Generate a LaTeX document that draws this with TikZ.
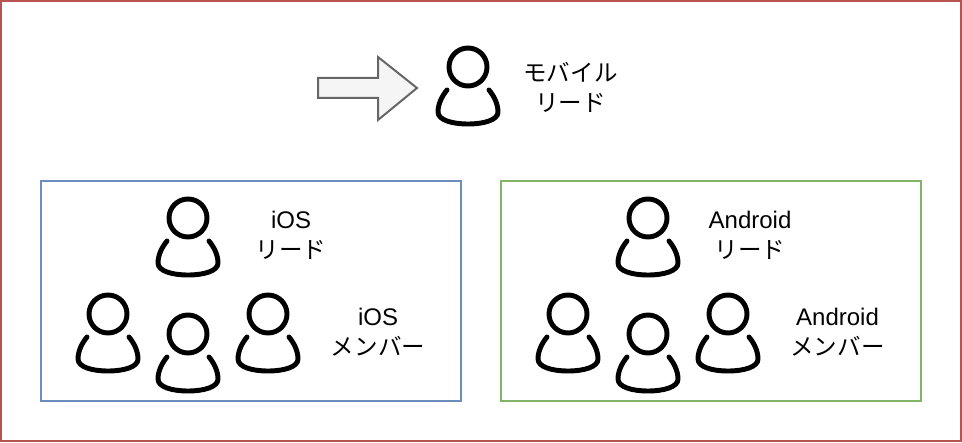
\documentclass[tikz,border=0pt]{standalone}
\usepackage{fontspec}
\setmainfont{Liberation Sans}
\newfontfamily\cjk[Scale=0.98]{Noto Sans CJK JP}
\definecolor{frameRed}{HTML}{B85450}
\definecolor{iosBlue}{HTML}{6C8EBF}
\definecolor{androidGreen}{HTML}{82B366}
\tikzset{
  person/.pic={
    \draw[line width=3.7pt, line cap=round]
      (0,0) circle (19)
      (-21,23) .. controls (-26,29) and (-30,37) .. (-30,45)
      .. controls (-30,53) and (-16,57) .. (0,57)
      .. controls (16,57) and (30,53) .. (30,45)
      .. controls (30,37) and (26,29) .. (21,23);
  },
  role/.style={align=center, inner sep=0pt, font=\fontsize{18}{22.3}\selectfont}
}

\begin{document}
\begin{tikzpicture}[x=0.75pt, y=-0.75pt]
\useasboundingbox (0,0) rectangle (962,442);
\draw[frameRed, line width=1.5pt] (1,1) rectangle (961,441);
\draw[iosBlue, line width=1.5pt] (41,181) rectangle (461,401);
\draw[androidGreen, line width=1.5pt] (501,181) rectangle (921,401);
\draw[draw=black!60, fill=black!4, line width=1.5pt]
  (318,78) -- (378,78) -- (378,57) -- (417,88) -- (378,120) -- (378,98) -- (318,98) -- cycle;
\foreach \x/\y in {468/67, 188/218, 108/314, 188/334, 268/314,
                   648/218, 568/314, 648/334, 728/314}
  \pic at (\x,\y) {person};
\node[role] (mobileLead) at (570.5,87.5) {{\cjk モバイル}\\{\cjk リード}};
\node[role] (iosLead) at (291,235.5) {iOS\\{\cjk リード}};
\node[role] (iosMember) at (378,332.5) {iOS\\{\cjk メンバー}};
\node[role] (androidLead) at (750,235.5) {Android\\{\cjk リード}};
\node[role] (androidMember) at (837.5,332.5) {Android\\{\cjk メンバー}};
\end{tikzpicture}
\end{document}
